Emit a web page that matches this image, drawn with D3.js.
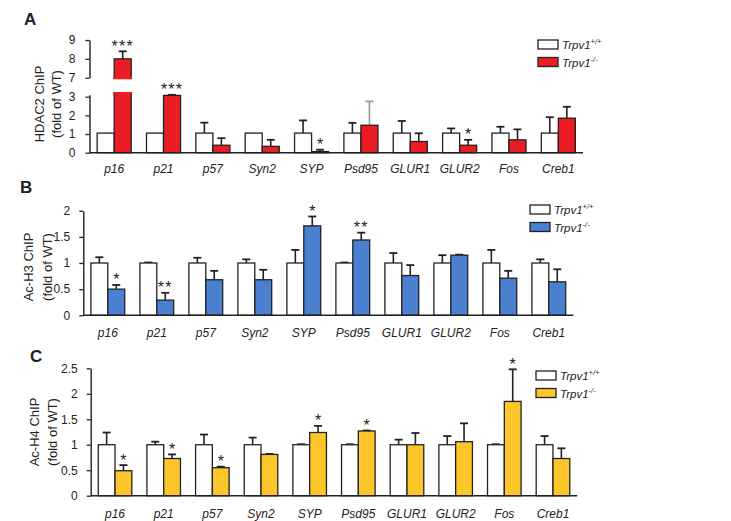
<!DOCTYPE html>
<html>
<head>
<meta charset="utf-8">
<script src="https://cdn.jsdelivr.net/npm/d3@7/dist/d3.min.js"></script>
<style>
  html, body { margin: 0; padding: 0; background: #fff; }
  svg { display: block; }
  text { font-family: "Liberation Sans", Arial, Helvetica, sans-serif; fill: #222; }
</style>
</head>
<body>
<svg id="chart" width="731" height="521"></svg>
<script>
// ---------------- DATA ----------------
const categories = ["p16", "p21", "p57", "Syn2", "SYP", "Psd95", "GLUR1", "GLUR2", "Fos", "Creb1"];
const seriesNames = ["Trpv1", "Trpv1"];
const seriesSup = ["+/+", "-/-"];

// Panel A: HDAC2 ChIP (fold of WT)
const wtA     = [1.05, 1.05, 1.05, 1.05, 1.05, 1.05, 1.05, 1.05, 1.05, 1.05];
const wtErrA  = [0, 0, 0.56, 0, 0.68, 0.55, 0.65, 0.25, 0.34, 0.85];
const koA     = [8.0, 3.07, 0.40, 0.34, 0.06, 1.47, 0.60, 0.40, 0.69, 1.85];
const koErrA  = [0.40, 0.03, 0.38, 0.35, 0.10, 1.28, 0.44, 0.29, 0.56, 0.61];
const sigA    = ["***", "***", "", "", "*", "", "", "*", "", ""];
const ticksALow  = [0, 1, 2, 3];
const ticksAHigh = [7, 8, 9];

// Panel B: Ac-H3 ChIP (fold of WT)
const wtB     = [1, 1, 1, 1, 1, 1, 1, 1, 1, 1];
const wtErrB  = [0.11, 0.01, 0.10, 0.07, 0.25, 0.01, 0.19, 0.15, 0.25, 0.07];
const koB     = [0.50, 0.29, 0.68, 0.68, 1.71, 1.44, 0.76, 1.15, 0.71, 0.64];
const koErrB  = [0.08, 0.14, 0.17, 0.19, 0.18, 0.14, 0.20, 0.01, 0.14, 0.24];
const sigB    = ["*", "**", "", "", "*", "**", "", "", "", ""];
const ticksB  = [0, 0.5, 1, 1.5, 2];

// Panel C: Ac-H4 ChIP (fold of WT)
const wtC     = [1, 1, 1, 1, 1, 1, 1, 1, 1, 1];
const wtErrC  = [0.24, 0.06, 0.20, 0.14, 0.01, 0.01, 0.10, 0.17, 0.01, 0.17];
const koC     = [0.49, 0.73, 0.55, 0.81, 1.24, 1.27, 1.00, 1.06, 1.85, 0.73];
const koErrC  = [0.11, 0.08, 0.02, 0.01, 0.13, 0.01, 0.23, 0.36, 0.63, 0.20];
const sigC    = ["*", "*", "*", "", "*", "*", "", "", "*", ""];
const ticksC  = [0, 0.5, 1, 1.5, 2, 2.5];

// ---------------- STYLE / LAYOUT ----------------
const FONT = '"Liberation Sans", Arial, Helvetica, sans-serif';
const INK = "#222";
const panels = [
  { letter: "A", letterPos: [24, 25], ylab: ["HDAC2  ChIP", "(fold of WT)"], ylabX: [44, 61], ylabY: 104,
    left: 89.5, right: 583, base: 152.7, color: "#ec1c24",
    wt: wtA, wtErr: wtErrA, ko: koA, koErr: koErrA, sig: sigA,
    broken: true, lowTop: 96.7, lowMax: 3, highBot: 77.7, highTop: 40, highMin: 7, highMax: 9,
    catY: 173, legend: [538, 40], specialErr: { 5: "#9a9a9a" } },
  { letter: "B", letterPos: [20, 193], ylab: ["Ac-H3 ChIP", "(fold of WT)"], ylabX: [33, 52], ylabY: 267,
    left: 83.3, right: 573.3, base: 315.3, top: 210.7, max: 2, ticks: ticksB, color: "#4a80cf",
    wt: wtB, wtErr: wtErrB, ko: koB, koErr: koErrB, sig: sigB,
    catY: 337, legend: [530, 205] },
  { letter: "C", letterPos: [30, 362], ylab: ["Ac-H4 ChIP", "(fold of WT)"], ylabX: [39, 57], ylabY: 432,
    left: 90.7, right: 577.3, base: 495.7, top: 368.3, max: 2.5, ticks: ticksC, color: "#fcc62b",
    wt: wtC, wtErr: wtErrC, ko: koC, koErr: koErrC, sig: sigC,
    catY: 518, legend: [536, 371] }
];

const svg = d3.select("#chart");

function styleAxis(g) {
  g.selectAll("path.domain").attr("stroke", INK).attr("stroke-width", 1.4);
  g.selectAll(".tick line").attr("stroke", INK).attr("stroke-width", 1.3);
  g.selectAll(".tick text").attr("font-family", FONT).attr("font-size", 12).attr("fill", INK);
}

panels.forEach(p => {
  const g = svg.append("g");
  const x = d3.scaleBand().domain(categories).range([p.left, p.right]).padding(0);
  const bw = x.step() * 0.345;

  // y mapping
  let yv, yLow, yHigh;
  if (p.broken) {
    yLow = d3.scaleLinear().domain([0, p.lowMax]).range([p.base, p.lowTop]);
    yHigh = d3.scaleLinear().domain([p.highMin, p.highMax]).range([p.highBot, p.highTop]);
    yv = v => v <= p.lowMax + 0.3 ? yLow(v) : yHigh(v);
  } else {
    const y = d3.scaleLinear().domain([0, p.max]).range([p.base, p.top]);
    yv = y;
    // y axis
    const ax = g.append("g").attr("transform", `translate(${p.left},0)`)
      .call(d3.axisLeft(y).tickValues(p.ticks).tickFormat(d => String(d)).tickSize(4).tickSizeOuter(0).tickPadding(9));
    styleAxis(ax);
  }

  if (p.broken) {
    const lowAx = d3.scaleLinear().domain([0, 3.1]).range([p.base, yLow(3.1)]);
    const a1 = g.append("g").attr("transform", `translate(${p.left},0)`)
      .call(d3.axisLeft(lowAx).tickValues(ticksALow).tickFormat(d => String(d)).tickSize(4).tickSizeOuter(0).tickPadding(10));
    styleAxis(a1);
    const a2 = g.append("g").attr("transform", `translate(${p.left},0)`)
      .call(d3.axisLeft(yHigh).tickValues(ticksAHigh).tickFormat(d => String(d)).tickSize(4).tickSizeOuter(0).tickPadding(10));
    styleAxis(a2);
  }

  // bars
  const drawBar = (cx, v, fill) => {
    if (p.broken && v > p.lowMax + 0.3) {
      const cut = p.lowMax + 0.2;
      g.append("rect").attr("x", cx).attr("width", bw)
        .attr("y", yLow(cut)).attr("height", p.base - yLow(cut))
        .attr("fill", fill).attr("stroke", INK).attr("stroke-width", 1.3);
      g.append("rect").attr("x", cx).attr("width", bw)
        .attr("y", yHigh(v)).attr("height", yHigh(p.highMin - 0.03) - yHigh(v))
        .attr("fill", fill).attr("stroke", INK).attr("stroke-width", 1.3);
      // cover strokes at the cut
      g.append("rect").attr("x", cx - 1).attr("width", bw + 2)
        .attr("y", yLow(cut) - 1).attr("height", 2.2).attr("fill", fill);
      g.append("rect").attr("x", cx - 1).attr("width", bw + 2)
        .attr("y", yHigh(p.highMin - 0.03) - 1.2).attr("height", 2.2).attr("fill", fill);
    } else {
      g.append("rect").attr("x", cx).attr("width", bw)
        .attr("y", yv(v)).attr("height", p.base - yv(v))
        .attr("fill", fill).attr("stroke", INK).attr("stroke-width", 1.3);
    }
  };
  const drawErr = (cxm, v, e, col) => {
    if (e <= 0) return;
    const y0 = yv(v), y1 = yv(v + e);
    g.append("line").attr("x1", cxm).attr("x2", cxm).attr("y1", y0).attr("y2", y1)
      .attr("stroke", col).attr("stroke-width", 1.6);
    g.append("line").attr("x1", cxm - 4).attr("x2", cxm + 4).attr("y1", y1).attr("y2", y1)
      .attr("stroke", col).attr("stroke-width", 1.8);
  };

  categories.forEach((c, i) => {
    const cx = x(c) + x.bandwidth() / 2;
    // error bars first (behind bars' tops)
    drawErr(cx - bw / 2, p.wt[i], p.wtErr[i], INK);
    drawErr(cx + bw / 2, p.ko[i], p.koErr[i], (p.specialErr && p.specialErr[i]) || INK);
    drawBar(cx - bw, p.wt[i], "#ffffff");
    drawBar(cx, p.ko[i], p.color);
    // significance stars
    if (p.sig[i]) {
      const top = yv(p.ko[i] + p.koErr[i]);
      g.append("text").attr("x", cx + bw / 2).attr("y", top + 0.5)
        .attr("text-anchor", "middle").attr("font-family", FONT)
        .attr("font-size", 16).attr("letter-spacing", p.sig[i].length > 1 ? 1.2 : 0)
        .attr("fill", INK).text(p.sig[i]);
    }
  });

  // x axis
  const xa = g.append("g").attr("transform", `translate(0,${p.base})`)
    .call(d3.axisBottom(x).tickSize(0).tickSizeOuter(0).tickPadding(p.catY - p.base - 8.5));
  styleAxis(xa);
  xa.selectAll(".tick text").attr("font-style", "italic").attr("font-size", 12);
  xa.select("path.domain").attr("d", `M${p.left},0H${p.right}`);

  // y label
  p.ylab.forEach((t, k) => {
    g.append("text").attr("transform", `translate(${p.ylabX[k]},${p.ylabY}) rotate(-90)`)
      .attr("text-anchor", "middle").attr("font-family", FONT).attr("font-size", 13)
      .attr("fill", INK).text(t);
  });

  // panel letter
  g.append("text").attr("x", p.letterPos[0]).attr("y", p.letterPos[1])
    .attr("font-family", FONT).attr("font-size", 17).attr("font-weight", "bold")
    .attr("fill", "#111").text(p.letter);

  // legend
  const lg = g.append("g").attr("transform", `translate(${p.legend[0]},${p.legend[1]})`);
  [["#ffffff", 0], [p.color, 1]].forEach(([fill, k]) => {
    const yy = k * 17.5;
    lg.append("rect").attr("x", 0).attr("y", yy).attr("width", 20).attr("height", 9)
      .attr("fill", fill).attr("stroke", INK).attr("stroke-width", 1.3);
    const t = lg.append("text").attr("x", 24).attr("y", yy + 9)
      .attr("font-family", FONT).attr("font-size", 11.5).attr("font-style", "italic").attr("fill", INK);
    t.append("tspan").text(seriesNames[k]);
    t.append("tspan").attr("font-size", 7.5).attr("dy", -5).text(seriesSup[k]);
  });
});
</script>
</body>
</html>
